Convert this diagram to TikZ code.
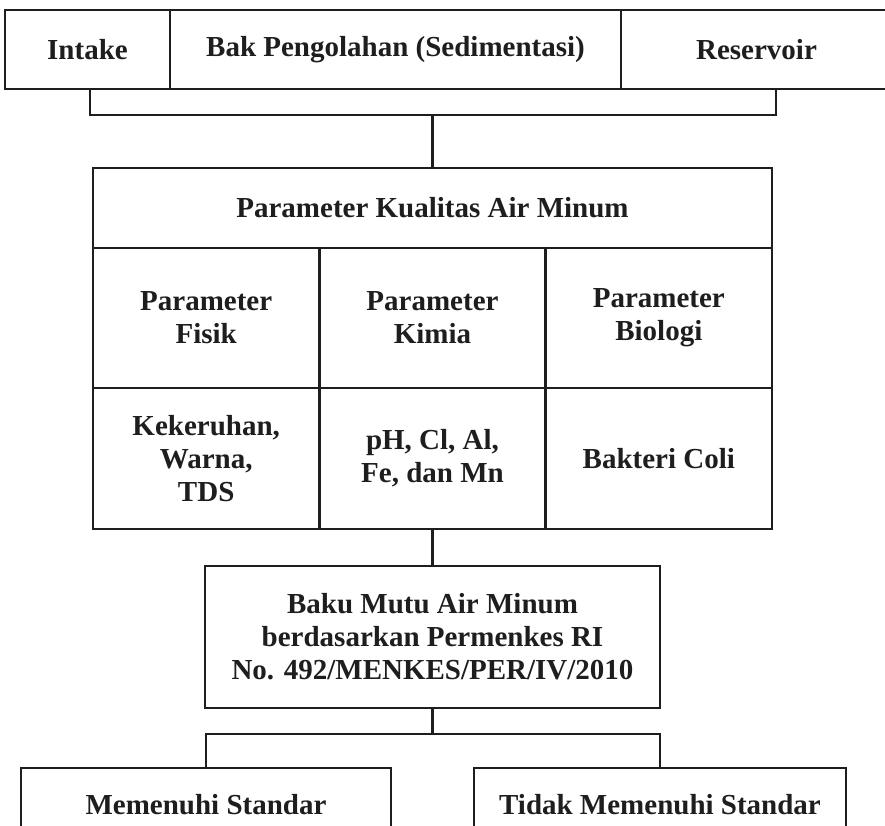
\documentclass[tikz,border=0pt]{standalone}
\usepackage{fontspec}
\setmainfont{Liberation Serif}
\usetikzlibrary{positioning}
\definecolor{ink}{RGB}{30,30,30}
\tikzset{
  cell/.style={draw=ink,line width=1.4pt,inner sep=0pt,outer sep=0pt,
    minimum width=#1,align=center,text=ink,
    font=\bfseries\fontsize{14.5}{16.5}\selectfont},
  cell/.default=113.17pt,
  link/.style={draw=ink,line width=1.4pt},
}

\begin{document}
\begin{tikzpicture}[x=0.5pt,y=-0.5pt]
    \clip (0,0) rectangle (885,826);
    \fill[white] (0,0) rectangle (885,826);
    % stages
    \node[cell=82.5pt,minimum height=39.5pt] (intake) at (87.5,49.5) {Intake};
    \node[cell=225.5pt,minimum height=39.5pt] (bak) at (395.5,49.5) {Bak Pengolahan (Sedimentasi)};
    \node[cell=135.5pt,minimum height=39.5pt] (reservoir) at (756.5,49.5) {Reservoir};
    \coordinate (brl) at (90,89);
    \coordinate (brr) at (776,89);
    \coordinate (topjoin) at (432.5,115);
    % parameter table
    \node[cell=339.5pt,minimum height=40pt] (kualitas) at (432.5,208) {Parameter Kualitas Air Minum};
    \node[cell,minimum height=70pt] (fisik) at (206.2,318) {Parameter\\Fisik};
    \node[cell,minimum height=70pt] (kimia) at (432.5,318) {Parameter\\Kimia};
    \node[cell,minimum height=70pt] (biologi) at (658.8,318) {Parameter\\Biologi};
    \node[cell,minimum height=70.5pt] (fisikval) at (206.2,458.5) {Kekeruhan,\\Warna,\\TDS};
    \node[cell,minimum height=70.5pt] (kimiaval) at (432.5,458.5) {pH, Cl, Al,\\Fe, dan Mn};
    \node[cell,minimum height=70.5pt] (biologival) at (658.8,458.5) {Bakteri Coli};
    % standard
    \node[cell=227.5pt,minimum height=71pt] (baku) at (432.5,637)
      {Baku Mutu Air Minum\\berdasarkan Permenkes RI\\No. 492/MENKES/PER/IV/2010};
    \coordinate (botjoin) at (432.5,734);
    \node[cell=185pt,minimum height=37pt] (meet) at (206,805) {Memenuhi Standar};
    \node[cell=186pt,minimum height=37pt] (notmeet) at (660,805) {Tidak Memenuhi Standar};
    % connectors
    \draw[link] (brl) |- (topjoin) -| (brr);
    \draw[link] (topjoin) -- (kualitas.north);
    \draw[link] (kimiaval.south) -- (baku.north);
    \draw[link] (baku.south) -- (botjoin);
    \draw[link] (meet.north) |- (botjoin) -| (notmeet.north);
\end{tikzpicture}
\end{document}
